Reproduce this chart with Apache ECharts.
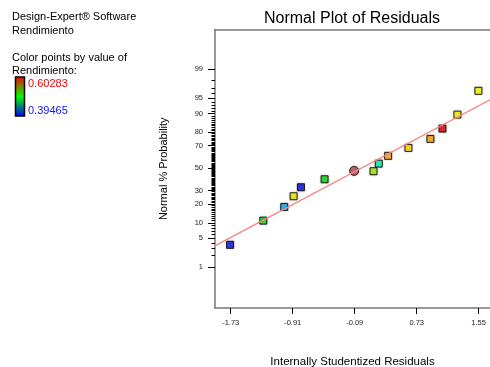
<!DOCTYPE html>
<html>
<head>
<meta charset="utf-8">
<script src="https://cdn.jsdelivr.net/npm/echarts@6/dist/echarts.min.js"></script>
<style>
  html, body { margin: 0; padding: 0; background: #fff; }
  #main { width: 490px; height: 367px; }
</style>
</head>
<body>
<div id="main"></div>
<script type="text/javascript">
// residuals (x) and normal % probability (y)
var residuals = [-1.739, -1.299, -1.022, -0.898, -0.801, -0.488, -0.097, 0.159, 0.229, 0.352, 0.621, 0.912, 1.071, 1.269, 1.547];
var probPct   = [3.6, 10.9, 18.1, 25.5, 32.7, 39.7, 47.4, 47.1, 54.2, 61.3, 68.2, 75.3, 82.3, 89.5, 96.5];
var pointColors = ['#0a14e6', '#10e010', '#10aaf0', '#f0f000', '#0a14e6', '#10e010', '#b85454', '#a6f000', '#10f0b0', '#ffa800', '#ffe000', '#ffa800', '#f00000', '#ffff00', '#ffff00'];
var pointShapes = ['rect', 'rect', 'rect', 'rect', 'rect', 'rect', 'circle', 'rect', 'rect', 'rect', 'rect', 'rect', 'rect', 'rect', 'rect'];

// reference line end points (residual, z)
var lineX = [-1.94, 1.70];
var lineZ = [-1.825, 1.600];

// axis ticks
var xTicks = [-1.73, -0.91, -0.09, 0.73, 1.55];
var yMajorPct = [1, 5, 10, 20, 30, 50, 70, 80, 90, 95, 99];
var yMinorPct = [];
for (var p = 1; p <= 99; p++) { yMinorPct.push(p); }

var colorMax = '0.60283';
var colorMin = '0.39465';

// inverse normal cdf (Acklam)
function probit(q) {
    var a = [-3.969683028665376e+01, 2.209460984245205e+02, -2.759285104469687e+02, 1.383577518672690e+02, -3.066479806614716e+01, 2.506628277459239e+00];
    var b = [-5.447609879822406e+01, 1.615858368580409e+02, -1.556989798598866e+02, 6.680131188771972e+01, -1.328068155288572e+01];
    var c = [-7.784894002430293e-03, -3.223964580411365e-01, -2.400758277161838e+00, -2.549732539343734e+00, 4.374664141464968e+00, 2.938163982698783e+00];
    var d = [7.784695709041462e-03, 3.224671290700398e-01, 2.445134137142996e+00, 3.754408661907416e+00];
    var pl = 0.02425, r, t;
    if (q < pl) {
        t = Math.sqrt(-2 * Math.log(q));
        return (((((c[0]*t+c[1])*t+c[2])*t+c[3])*t+c[4])*t+c[5]) / ((((d[0]*t+d[1])*t+d[2])*t+d[3])*t+1);
    }
    if (q > 1 - pl) {
        t = Math.sqrt(-2 * Math.log(1 - q));
        return -(((((c[0]*t+c[1])*t+c[2])*t+c[3])*t+c[4])*t+c[5]) / ((((d[0]*t+d[1])*t+d[2])*t+d[3])*t+1);
    }
    t = q - 0.5; r = t * t;
    return (((((a[0]*r+a[1])*r+a[2])*r+a[3])*r+a[4])*r+a[5])*t / (((((b[0]*r+b[1])*r+b[2])*r+b[3])*r+b[4])*r+1);
}

var yMajorZ = yMajorPct.map(function (v) { return probit(v / 100); });
var yMinorZ = yMinorPct.map(function (v) { return probit(v / 100); });

var pts = [];
for (var i = 0; i < residuals.length; i++) {
    pts.push({
        value: [residuals[i], probit(probPct[i] / 100)],
        symbol: pointShapes[i],
        symbolSize: pointShapes[i] == 'circle' ? 9 : 7,
        itemStyle: { color: pointColors[i] }
    });
}

var xMin = -1.938, xMax = 1.70;
var yMin = -3.28, yMax = 3.25;
var labelFont = { fontSize: 7.5, color: '#222', fontFamily: 'Liberation Sans' };

var chart = echarts.init(document.getElementById('main'));
var option = {
    animation: false,
    textStyle: { fontFamily: 'Liberation Sans' },
    grid: { left: 215, top: 29.5, right: 0, bottom: 59, containLabel: false, outerBoundsMode: 'none' },
    xAxis: [{
        type: 'value', min: xMin, max: xMax, position: 'bottom',
        name: 'Internally Studentized Residuals', nameLocation: 'middle', nameGap: 47.5,
        nameTextStyle: { fontSize: 11.5, color: '#000', fontFamily: 'Liberation Sans' },
        axisLine: { show: true, onZero: false, lineStyle: { color: '#777', width: 1.5 } },
        axisTick: { show: true, length: 6, customValues: xTicks, lineStyle: { color: '#000' } },
        axisLabel: Object.assign({ customValues: xTicks, margin: 11, formatter: function (v) { return v.toFixed(2); } }, labelFont),
        splitLine: { show: false }
    }, {
        type: 'value', min: xMin, max: xMax, position: 'top',
        axisLine: { show: true, onZero: false, lineStyle: { color: '#777', width: 1.5 } },
        axisTick: { show: false }, axisLabel: { show: false }, splitLine: { show: false }
    }],
    yAxis: [{
        type: 'value', min: yMin, max: yMax, position: 'left',
        name: 'Normal % Probability', nameLocation: 'middle', nameGap: 46,
        nameTextStyle: { fontSize: 11, color: '#000', fontFamily: 'Liberation Sans' },
        axisLine: { show: true, onZero: false, lineStyle: { color: '#777', width: 1.5 } },
        axisTick: { show: true, length: 7, customValues: yMajorZ, lineStyle: { color: '#000' } },
        axisLabel: Object.assign({
            customValues: yMajorZ, margin: 12,
            formatter: function (v) {
                var best = 0;
                for (var k = 1; k < yMajorZ.length; k++) {
                    if (Math.abs(yMajorZ[k] - v) < Math.abs(yMajorZ[best] - v)) best = k;
                }
                return String(yMajorPct[best]);
            }
        }, labelFont),
        splitLine: { show: false }
    }, {
        type: 'value', min: yMin, max: yMax, position: 'left',
        axisLine: { show: false, onZero: false },
        axisTick: { show: true, length: 3.5, customValues: yMinorZ, lineStyle: { color: '#000' } },
        axisLabel: { show: false }, splitLine: { show: false }
    }],
    graphic: [
        { type: 'text', x: 352, y: 19, style: { text: 'Normal Plot of Residuals', align: 'center', verticalAlign: 'middle', font: '16px "Liberation Sans"', fill: '#000' } },
        { type: 'text', x: 12, y: 17, style: { text: 'Design-Expert® Software', verticalAlign: 'middle', font: '11px "Liberation Sans"', fill: '#000' } },
        { type: 'text', x: 12, y: 31, style: { text: 'Rendimiento', verticalAlign: 'middle', font: '11px "Liberation Sans"', fill: '#000' } },
        { type: 'text', x: 12, y: 58, style: { text: 'Color points by value of', verticalAlign: 'middle', font: '11px "Liberation Sans"', fill: '#000' } },
        { type: 'text', x: 12, y: 71, style: { text: 'Rendimiento:', verticalAlign: 'middle', font: '11px "Liberation Sans"', fill: '#000' } },
        {
            type: 'rect', shape: { x: 15.5, y: 77, width: 9, height: 39 },
            style: {
                fill: new echarts.graphic.LinearGradient(0, 0, 0, 1, [
                    { offset: 0, color: '#ff0000' },
                    { offset: 0.5, color: '#00ff00' },
                    { offset: 1, color: '#0000ff' }
                ]),
                stroke: '#000', lineWidth: 1.5
            }
        },
        { type: 'text', x: 28, y: 84, style: { text: colorMax, verticalAlign: 'middle', font: '11px "Liberation Sans"', fill: '#ff0000' } },
        { type: 'text', x: 28, y: 111, style: { text: colorMin, verticalAlign: 'middle', font: '11px "Liberation Sans"', fill: '#1010ff' } }
    ],
    series: [{
        type: 'line',
        xAxisIndex: 0, yAxisIndex: 0,
        data: [[lineX[0], lineZ[0]], [lineX[1], lineZ[1]]],
        symbol: 'none',
        lineStyle: { color: '#ff8080', width: 1.3 },
        silent: true
    }, {
        type: 'scatter',
        xAxisIndex: 0, yAxisIndex: 0,
        data: pts,
        itemStyle: { borderColor: '#000', borderWidth: 1, shadowColor: 'rgba(0,0,0,0.35)', shadowBlur: 2 }
    }]
};
chart.setOption(option);
</script>
</body>
</html>
